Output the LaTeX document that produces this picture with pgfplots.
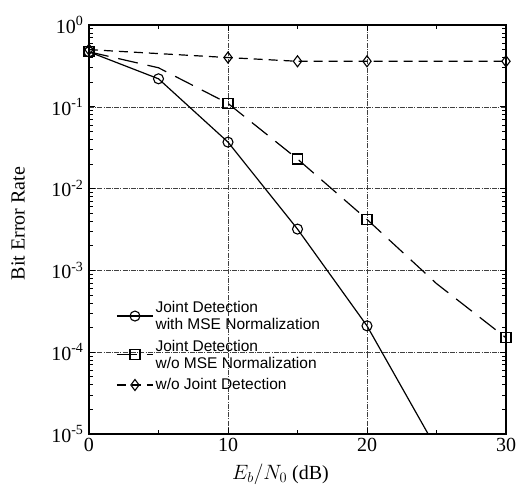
\documentclass[border=0pt]{standalone}
\usepackage{fontspec}
\setmainfont{Liberation Serif}
\newfontfamily\legfont{Liberation Sans}
\usepackage{pgfplots}
\pgfplotsset{compat=1.18}

\begin{document}
\begin{tikzpicture}
\begin{axis}[
  name=ax,
  ymode=log,
  width=417pt, height=409pt, scale only axis,
  xmin=0, xmax=30, ymin=1e-5, ymax=1,
  xtick={0,10,20,30}, minor xtick={5,15,25},
  ytick={1e-5,1e-4,1e-3,1e-2,1e-1,1},
  yticklabels={10\textsuperscript{-5},10\textsuperscript{-4},10\textsuperscript{-3},
    10\textsuperscript{-2},10\textsuperscript{-1},10\textsuperscript{0}},
  xticklabels={0,10,20,30},
  tick label style={font=\fontsize{20}{22}\selectfont},
  yticklabel style={xshift=-2pt},
  xticklabel style={yshift=-1pt},
  axis line style={line width=1.4pt},
  major tick length=6pt, minor tick length=4pt,
  tick style={line width=0.8pt, black},
  grid=major,
  major grid style={black!75, line width=0.6pt, dash pattern=on 5pt off 1.2pt on 1pt off 1.2pt},
  legend style={draw=none, fill=none,
    font=\legfont\fontsize{15.5}{17}\selectfont,
    at={(0.058,0.335)}, anchor=north west,
    cells={align=left, anchor=west}, row sep=5pt},
  legend image code/.code={%
    \draw[#1, mark indices={2}] plot coordinates {(0pt,0pt)(18pt,0pt)(36pt,0pt)};},
]
\addplot[black, line width=1.2pt, mark=o, mark size=5pt,
  mark indices={1,2,3,4,5}, mark options={solid, line width=1.1pt}]
  coordinates {(0,0.47)(5,0.22)(10,0.037)(15,0.0032)(20,2.1e-4)(25,6.6e-6)};
\addlegendentry{Joint Detection\\with MSE Normalization}
\addplot[black, line width=1.2pt, dash pattern=on 20pt off 10pt, mark=square, mark size=5pt,
  mark indices={1,3,4,5,7}, mark options={solid, line width=1.1pt}]
  coordinates {(0,0.47)(5,0.30)(10,0.11)(15,0.023)(20,0.0042)(25,6.9e-4)(30,1.5e-4)};
\addlegendentry{Joint Detection\\w/o MSE Normalization}
\addplot[black, line width=1.2pt, dash pattern=on 9pt off 6pt, mark=diamond, mark size=5.5pt,
  mark indices={1,2,3,4,6}, mark options={solid, line width=1.1pt}]
  coordinates {(0,0.50)(10,0.40)(15,0.36)(20,0.36)(25,0.36)(30,0.36)};
\addlegendentry{w/o Joint Detection}
\end{axis}
\node[rotate=90, font=\fontsize{20}{22}\selectfont] at ([xshift=-71pt, yshift=6pt]ax.west) {Bit Error Rate};
\node[font=\fontsize{20}{22}\selectfont] at ([xshift=-17pt, yshift=-40pt]ax.south) {$E_b/N_0$ (dB)};
\pgfresetboundingbox
\path ([shift={(-89pt,-52pt)}]ax.south west) rectangle ([shift={(11pt,25pt)}]ax.north east);
\end{tikzpicture}
\end{document}
